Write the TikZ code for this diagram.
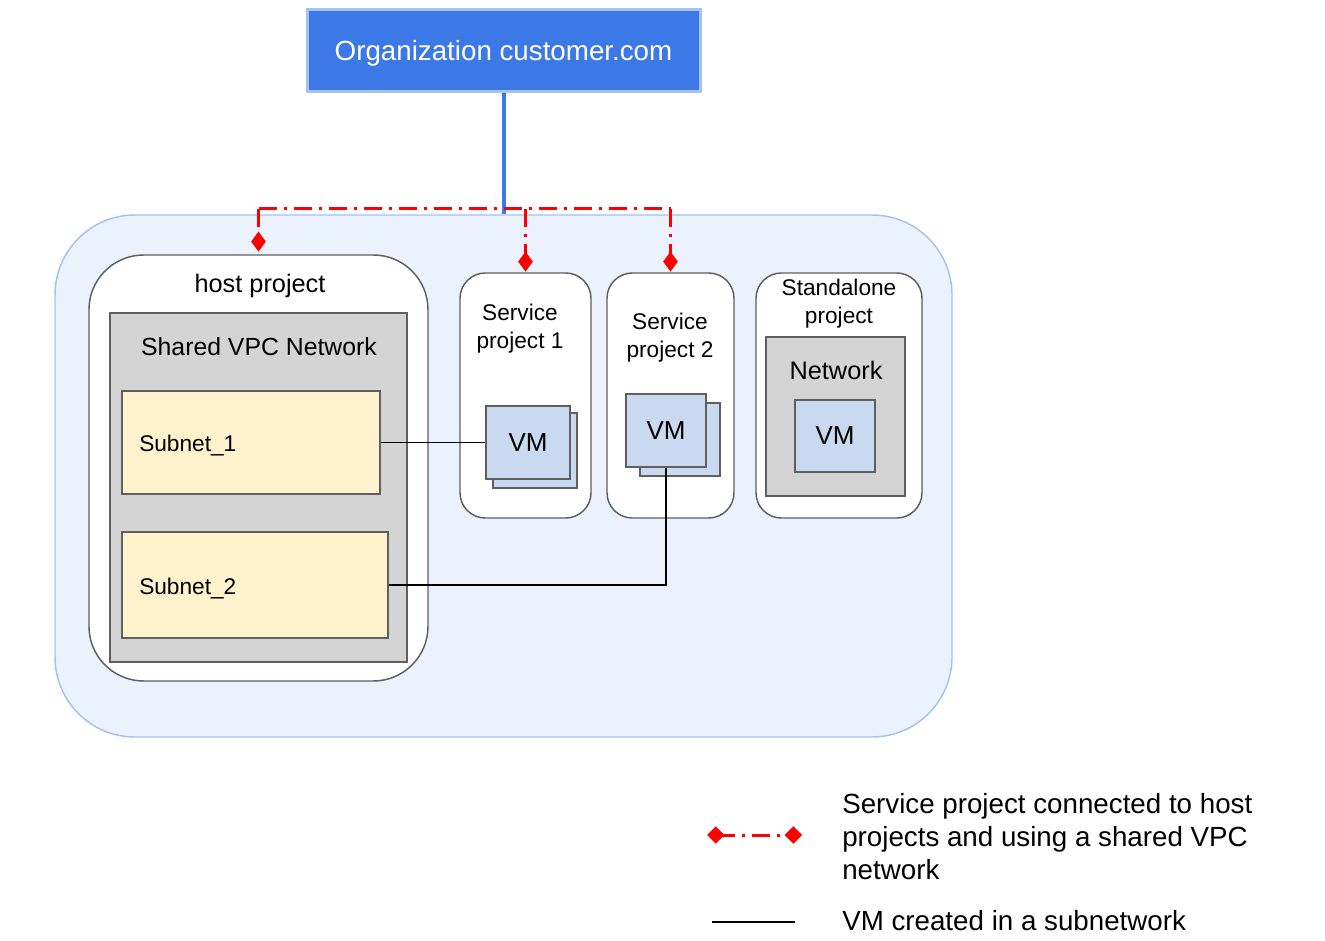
\documentclass[tikz,border=0pt]{standalone}
\usepackage{fontspec}
\setmainfont{Liberation Sans}
\usetikzlibrary{arrows.meta}

\definecolor{orgblue}{HTML}{3C78E6}
\definecolor{orgedge}{HTML}{A4C2F4}
\definecolor{cloudfill}{HTML}{ECF2FD}
\definecolor{edgegray}{HTML}{5F5F5F}
\definecolor{netgray}{HTML}{D4D4D4}
\definecolor{subnetfill}{HTML}{FFF2CC}
\definecolor{vmfill}{HTML}{C9DAF0}

% font size in pt, baselineskip in pt
\newcommand{\pxfont}[2]{\fontsize{#1pt}{#2pt}\selectfont}

\tikzset{
  box/.style={draw=edgegray, line width=1.1pt, inner sep=0pt},
  project/.style={box, fill=white},
  netbox/.style={box, fill=netgray},
  subnetbox/.style={box, fill=subnetfill},
  vmbox/.style={box, fill=vmfill, font=\pxfont{19.5}{23}},
  lbl/.style={inner sep=0pt, align=center},
  redlink/.style={red, line width=2.25pt, dash pattern=on 13.5pt off 5.25pt on 2.25pt off 5.25pt},
  diamondtip/.style={-{Diamond[length=15pt, width=11pt]}},
  vmlink/.style={black, line width=1.1pt}
}

\begin{document}
\begin{tikzpicture}[x=0.75pt, y=-0.75pt]
  \useasboundingbox (0,0) rectangle (1325,941);
  \fill[white] (0,0) rectangle (1325,941);

  % organization and the shared area
  \node (cloud) [draw=orgedge, fill=cloudfill, line width=1.1pt, rounded corners=60pt,
    minimum width=672.75pt, minimum height=391.5pt] at (503.5,476) {};
  \node (org) [draw=orgedge, fill=orgblue, line width=2.25pt,
    minimum width=294.75pt, minimum height=61.5pt, inner sep=0pt] at (503.5,51) {};
  \node (orglbl) [lbl, text=white, font=\pxfont{20.8}{25}] at (503.5,53) {Organization customer.com};
  \draw [orgblue, line width=3pt] (org.south) -- (org.south |- cloud.north);

  % host project
  \node (host) [project, rounded corners=41pt, minimum width=254.25pt, minimum height=319.5pt] at (258.5,468) {};
  \node (hostlbl) [lbl, font=\pxfont{19}{23}] at (260,286) {host project};
  \node (vpcnet) [netbox, minimum width=222.75pt, minimum height=261.75pt] at (258.5,487.5) {};
  \node (vpclbl) [lbl, font=\pxfont{18.6}{22}] at (259,347) {Shared VPC Network};
  \node (subnet1) [subnetbox, minimum width=193.5pt, minimum height=77.25pt] at (251,442.5) {};
  \node (sub1lbl) [lbl, anchor=west, font=\pxfont{17}{20}] at (139,446) {Subnet\_1};
  \node (subnet2) [subnetbox, minimum width=199.5pt, minimum height=79.5pt] at (255,585) {};
  \node (sub2lbl) [lbl, anchor=west, font=\pxfont{17}{20}] at (139,589) {Subnet\_2};

  % service projects
  \node (sp1) [project, rounded corners=19pt, minimum width=98.25pt, minimum height=183.75pt] at (525.5,395.5) {};
  \node (sp1lbl) [lbl, font=\pxfont{17}{21}] at (520,329) {Service\\project 1};
  \node (vm1back) [vmbox, minimum width=63pt, minimum height=56.25pt] at (535,450.5) {};
  \node (vm1) [vmbox, minimum width=63pt, minimum height=54.75pt] at (528,442.5) {VM};

  \node (sp2) [project, rounded corners=19pt, minimum width=95.25pt, minimum height=183.75pt] at (670.5,395.5) {};
  \node (sp2lbl) [lbl, font=\pxfont{17}{21}] at (670,338) {Service\\project 2};
  \node (vm2back) [vmbox, minimum width=60pt, minimum height=54.75pt] at (680,439.5) {};
  \node (vm2) [vmbox, minimum width=60pt, minimum height=54.75pt] at (666,430.5) {VM};

  % standalone project
  \node (sa) [project, rounded corners=19pt, minimum width=124.5pt, minimum height=183.75pt] at (839,395.5) {};
  \node (salbl) [lbl, font=\pxfont{17}{21}] at (839,304) {Standalone\\project};
  \node (sanet) [netbox, minimum width=104.25pt, minimum height=119.25pt] at (835.5,416.5) {};
  \node (sanetlbl) [lbl, font=\pxfont{19}{23}] at (836,370) {Network};
  \node (vm3) [vmbox, minimum width=60pt, minimum height=54pt] at (835,436) {VM};

  % VMs in subnetworks
  \draw [vmlink] (subnet1.east) -- (vm1.west);
  \draw [vmlink] (subnet2.east) -| (vm2.south);

  % shared VPC attachments
  \coordinate (bus) at (503.5,209);
  \draw [redlink] (host.north |- bus) -- (sp2.north |- bus);
  \draw [redlink, diamondtip, shorten >=2pt] (host.north |- bus) -- (host.north);
  \draw [redlink, diamondtip, shorten >=0.5pt] (sp1.north |- bus) -- (sp1.north);
  \draw [redlink, diamondtip, shorten >=0.5pt] (sp2.north |- bus) -- (sp2.north);

  % legend
  \coordinate (legA) at (707,835);
  \coordinate (legB) at (802,835);
  \draw [redlink, dash phase=4pt, {Diamond[length=13pt, width=13pt]}-{Diamond[length=13pt, width=13pt]}] (legA) -- (legB);
  \node (leg1) [lbl, anchor=west, align=left, font=\pxfont{20.8}{24.75}] at (842,837)
    {Service project connected to host\\projects and using a shared VPC\\network};
  \coordinate (legC) at (712,922);
  \coordinate (legD) at (795,922);
  \draw [vmlink] (legC) -- (legD);
  \node (leg2) [lbl, anchor=west, font=\pxfont{20.8}{24.75}] at (842,921) {VM created in a subnetwork};
\end{tikzpicture}
\end{document}
